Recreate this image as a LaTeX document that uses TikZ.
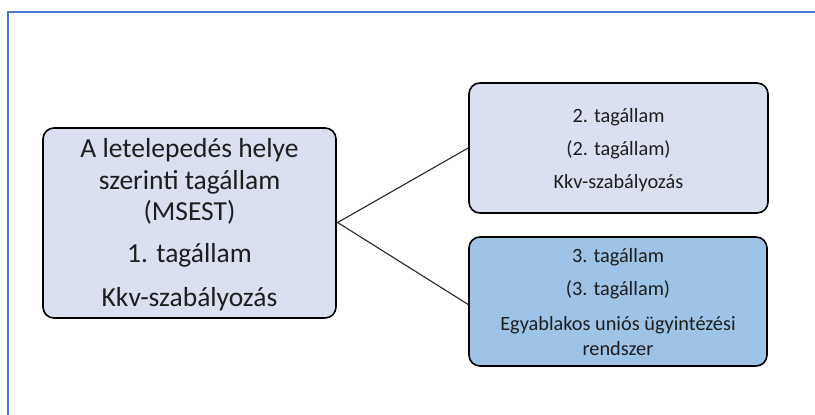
\documentclass[tikz,border=0pt]{standalone}
\usepackage{fontspec}
\setmainfont{Carlito}
\definecolor{frameblue}{HTML}{4A7BD0}
\definecolor{lightfill}{HTML}{DAE0F0}
\definecolor{darkfill}{HTML}{9DC3E6}
\definecolor{txt}{HTML}{1E1E1E}
\begin{document}
\begin{tikzpicture}[x=1pt,y=-1pt,
  boxst/.style={draw=black, line width=1.6pt, rounded corners=11pt, inner sep=0pt},
  bigtxt/.style={anchor=base, inner sep=0pt, text=txt, font=\fontsize{27.5}{32}\selectfont},
  smalltxt/.style={anchor=base, inner sep=0pt, text=txt, font=\fontsize{20.3}{25}\selectfont},
  conn/.style={draw=black!85, line width=1.1pt}]
\useasboundingbox (0,0) rectangle (815,415);
\draw[frameblue, line width=2.2pt] (8,416) -- (8,12) -- (816,12);
\node[boxst, fill=lightfill, minimum width=293pt, minimum height=190pt] (L) at (189.5,223) {};
\node[boxst, fill=lightfill, minimum width=299pt, minimum height=130pt] (R1) at (618.5,148) {};
\node[boxst, fill=darkfill, minimum width=298pt, minimum height=129pt] (R2) at (618,301.5) {};
\node[bigtxt] (l1) at (189.5,157) {A letelepedés helye};
\node[bigtxt] (l2) at (189.5,189) {szerinti tagállam};
\node[bigtxt] (l3) at (189.5,220) {(MSEST)};
\node[bigtxt] (l4) at (189.5,262) {1. tagállam};
\node[bigtxt] (l5) at (189.5,306) {Kkv-szabályozás};
\node[smalltxt] (a1) at (618.5,122) {2. tagállam};
\node[smalltxt] (a2) at (618.5,155) {(2. tagállam)};
\node[smalltxt] (a3) at (618.5,188) {Kkv-szabályozás};
\node[smalltxt] (b1) at (618,262) {3. tagállam};
\node[smalltxt] (b2) at (618,295) {(3. tagállam)};
\node[smalltxt] (b3) at (618,330) {Egyablakos uniós ügyintézési};
\node[smalltxt] (b4) at (618,355) {rendszer};
\draw[conn] (L.east) -- (R1.west);
\draw[conn] ([yshift=1pt]L.east) -- ([yshift=-3pt]R2.west);
\end{tikzpicture}
\end{document}
